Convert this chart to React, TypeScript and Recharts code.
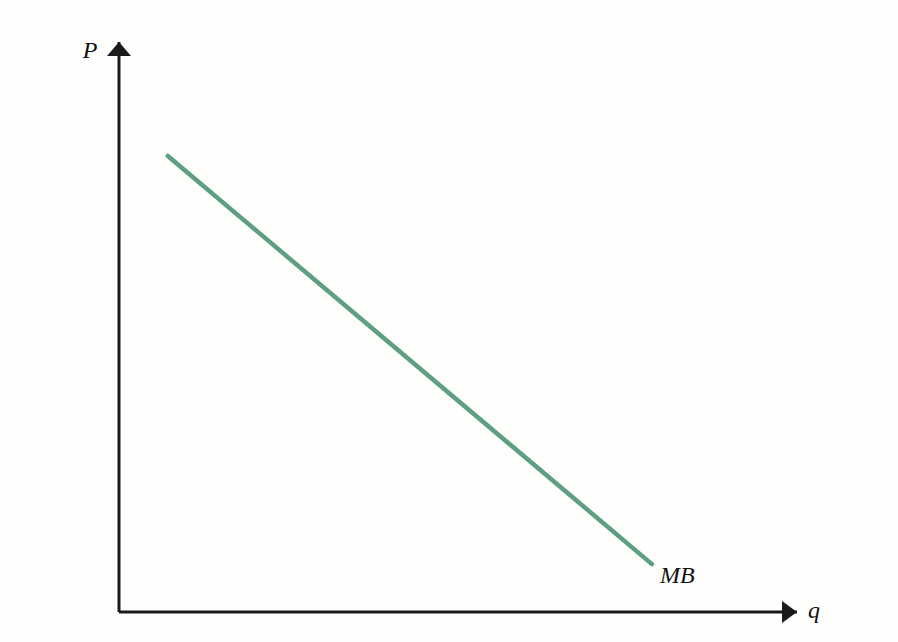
import React from 'react';
import { LineChart, Line, XAxis, YAxis, ReferenceDot, ReferenceLine } from 'recharts';

const qValues = [0.72, 7.86];
const mbValues = [8.0, 0.84];
const xDomain = [0, 10];
const yDomain = [0, 10];

const data = qValues.map((q, i) => ({ q, mb: mbValues[i] }));

const AXIS_COLOR = '#1a1a1a';
const LINE_COLOR = '#5e9f80';
const FONT = '"Liberation Serif", "DejaVu Serif", serif';

const UpArrow = (props: any) => {
  const { cx, cy } = props;
  return (
    <g>
      <polygon points={`${cx},${cy} ${cx - 12},${cy + 14} ${cx + 12},${cy + 14}`} fill={AXIS_COLOR} />
      <text x={cx - 29} y={cy + 16} fontFamily={FONT} fontStyle="italic" fontSize={24} fill="#111" textAnchor="middle">P</text>
    </g>
  );
};

const RightArrow = (props: any) => {
  const { cx, cy } = props;
  return (
    <g>
      <polygon points={`${cx},${cy} ${cx - 15},${cy - 11} ${cx - 15},${cy + 11}`} fill={AXIS_COLOR} />
      <text x={cx + 17} y={cy + 6} fontFamily={FONT} fontStyle="italic" fontSize={24} fill="#111" textAnchor="middle">q</text>
    </g>
  );
};

const EndLabel = (props: any) => {
  const { cx, cy } = props;
  return (
    <text x={cx + 8} y={cy + 19} fontFamily={FONT} fontStyle="italic" fontSize={24} fill="#111" textAnchor="start">MB</text>
  );
};

export default function App() {
  return (
    <div style={{ position: 'absolute', left: 0, top: 0, width: 898, height: 642, background: '#fefefd' }}>
      <LineChart width={898} height={642} data={data} margin={{ top: 42, right: 101, bottom: 30, left: 119 }}>
        <XAxis type="number" dataKey="q" domain={xDomain} hide />
        <YAxis type="number" domain={yDomain} hide />
        <ReferenceLine x={xDomain[0]} stroke={AXIS_COLOR} strokeWidth={3} ifOverflow="visible" />
        <ReferenceLine y={yDomain[0]} stroke={AXIS_COLOR} strokeWidth={3} ifOverflow="visible" />
        <Line
          type="linear"
          dataKey="mb"
          stroke={LINE_COLOR}
          strokeWidth={4.5}
          strokeLinecap="round"
          dot={false}
          activeDot={false}
          isAnimationActive={false}
        />
        <ReferenceDot x={xDomain[0]} y={yDomain[1]} ifOverflow="visible" shape={UpArrow} />
        <ReferenceDot x={xDomain[1]} y={yDomain[0]} ifOverflow="visible" shape={RightArrow} />
        <ReferenceDot x={qValues[1]} y={mbValues[1]} ifOverflow="visible" shape={EndLabel} />
      </LineChart>
    </div>
  );
}
